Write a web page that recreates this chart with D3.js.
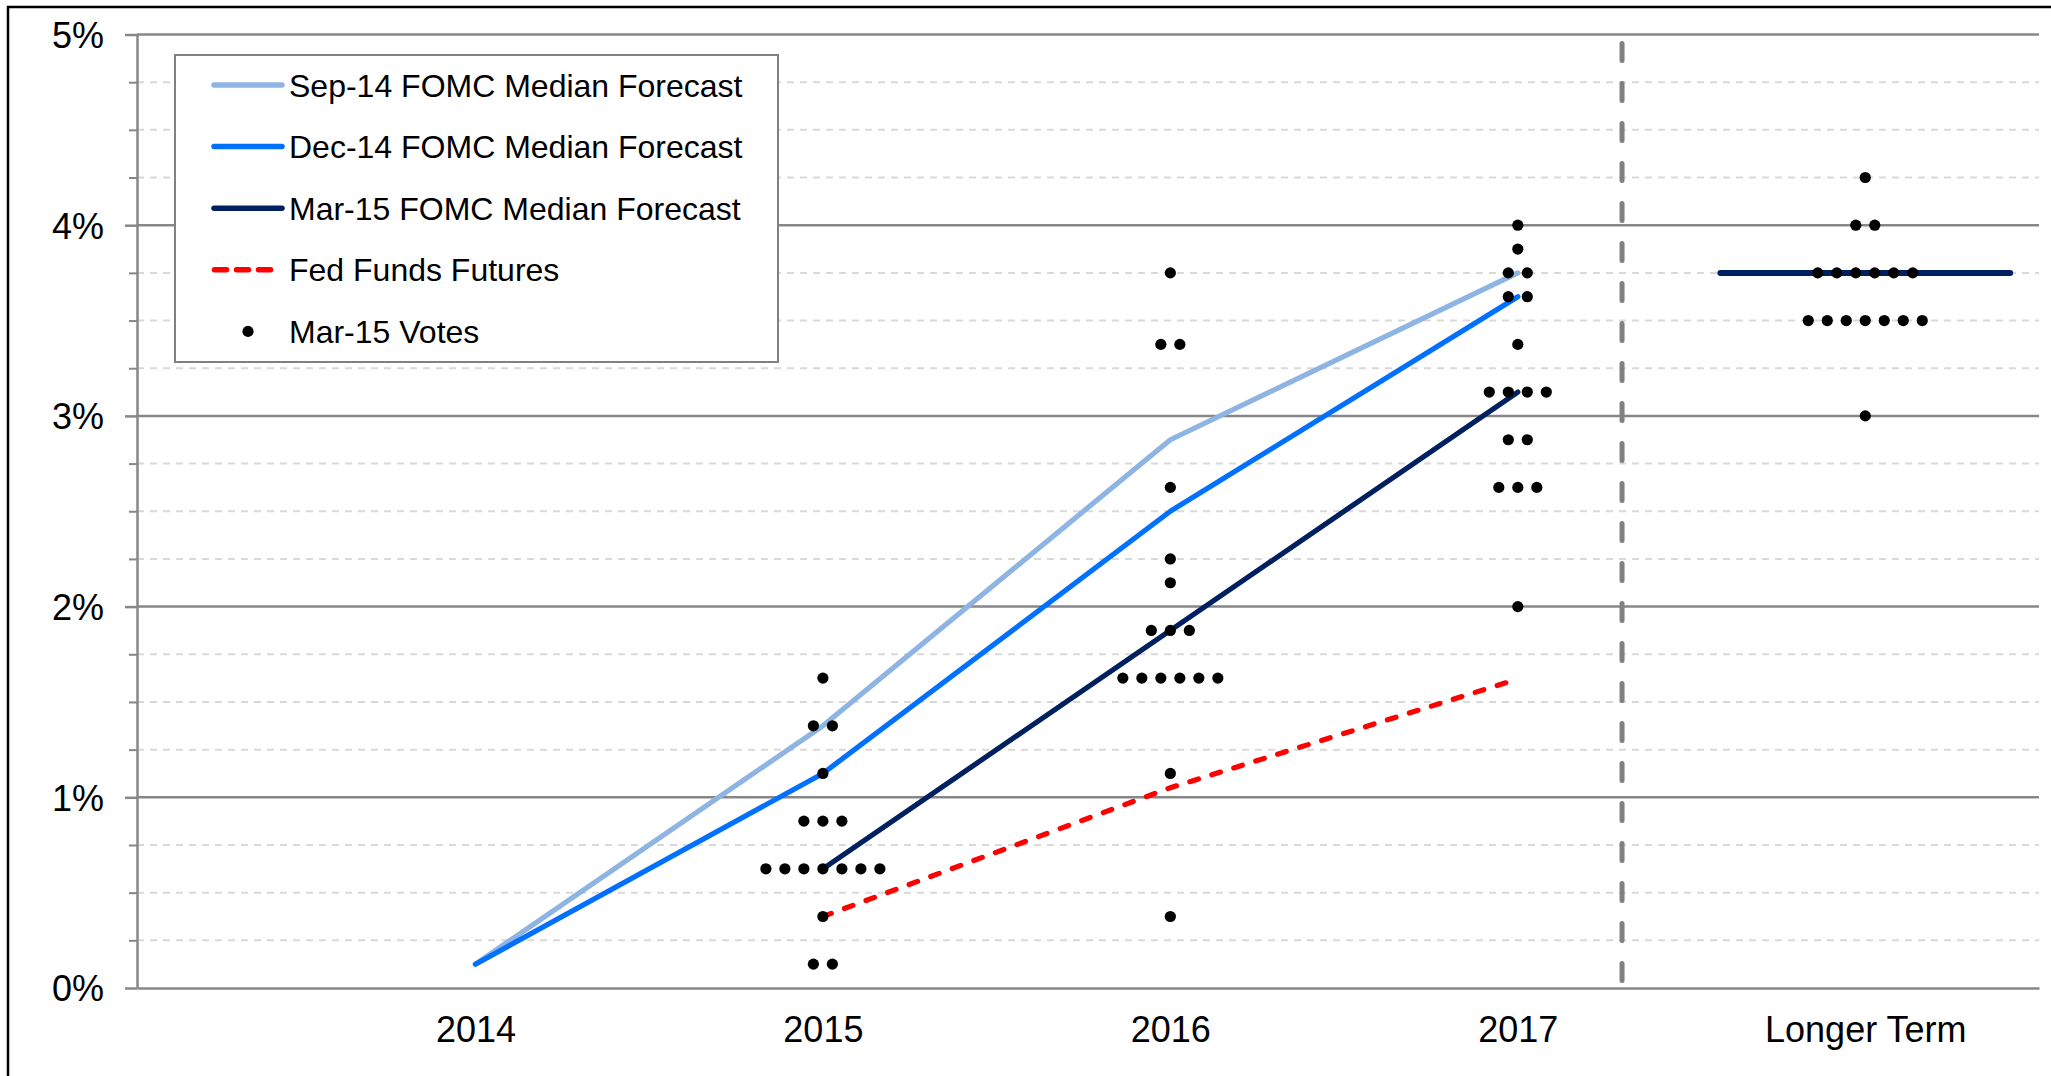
<!DOCTYPE html>
<html>
<head>
<meta charset="utf-8">
<script src="https://cdn.jsdelivr.net/npm/d3@7/dist/d3.min.js"></script>
<style>
  html, body { margin: 0; padding: 0; background: #fff; }
  svg { display: block; font-family: "Liberation Sans", Arial, sans-serif; }
</style>
</head>
<body>
<svg id="chart" width="2051" height="1076"></svg>
<script>
// ---------------- DATA ----------------
const categories = ["2014", "2015", "2016", "2017", "Longer Term"];
const categoryX = [1, 2, 3, 4, 5];

const sep14Median = [0.125, 1.375, 2.875, 3.75];          // 2014..2017
const dec14Median = [0.125, 1.125, 2.5, 3.625];           // 2014..2017
const mar15Median = [null, 0.625, 1.875, 3.125];          // 2014..2017
const mar15LongerTermMedian = 3.75;
const longerTermSpan = [4.583, 5.417];
const fedFundsFutures = [null, 0.375, 1.05, 1.62];        // 2014..2017

const votes2015 = [1.625, 1.375, 1.375, 1.125, 0.875, 0.875, 0.875,
  0.625, 0.625, 0.625, 0.625, 0.625, 0.625, 0.625, 0.375, 0.125, 0.125];
const votes2016 = [3.75, 3.375, 3.375, 2.625, 2.25, 2.125, 1.875, 1.875, 1.875,
  1.625, 1.625, 1.625, 1.625, 1.625, 1.625, 1.125, 0.375];
const votes2017 = [4.0, 3.875, 3.75, 3.75, 3.625, 3.625, 3.375, 3.125, 3.125,
  3.125, 3.125, 2.875, 2.875, 2.625, 2.625, 2.625, 2.0];
const votesLongerTerm = [4.25, 4.0, 4.0, 3.75, 3.75, 3.75, 3.75, 3.75, 3.75,
  3.5, 3.5, 3.5, 3.5, 3.5, 3.5, 3.5, 3.0];

const yMajorTicks = [0, 1, 2, 3, 4, 5];
const yTickLabels = ["0%", "1%", "2%", "3%", "4%", "5%"];
const separatorX = 4.3;

const legendLabels = ["Sep-14 FOMC Median Forecast", "Dec-14 FOMC Median Forecast",
  "Mar-15 FOMC Median Forecast", "Fed Funds Futures", "Mar-15 Votes"];

// ---------------- STYLE ----------------
const C = {
  sep: "#8DB4E2", dec: "#0070FF", mar: "#002060", fut: "#FF0000",
  grid: "#878787", minor: "#D9D9D9", dot: "#000000"
};

const svg = d3.select("#chart");
const plotLeft = 137, plotRight = 2039, plotTop = 34.5, plotBottom = 988;

const x = d3.scaleLinear().domain([0.026, 5.5]).range([plotLeft, plotRight]);
const y = d3.scaleLinear().domain([0, 5]).range([plotBottom, plotTop]);

// outer frame
svg.append("rect").attr("x", 8).attr("y", 7).attr("width", 2200).attr("height", 1200)
  .attr("fill", "none").attr("stroke", "#000").attr("stroke-width", 2.5);

// minor gridlines
const minorTicks = d3.range(0, 5.001, 0.25).filter(v => Math.abs(v - Math.round(v)) > 1e-6);
svg.append("g").selectAll("line").data(minorTicks).join("line")
  .attr("x1", plotLeft).attr("x2", plotRight)
  .attr("y1", d => y(d)).attr("y2", d => y(d))
  .attr("stroke", C.minor).attr("stroke-width", 2).attr("stroke-dasharray", "7,6");

// major gridlines
svg.append("g").selectAll("line").data(yMajorTicks.filter(d => d > 0)).join("line")
  .attr("x1", plotLeft).attr("x2", plotRight)
  .attr("y1", d => y(d)).attr("y2", d => y(d))
  .attr("stroke", C.grid).attr("stroke-width", 2.5);

// y axis minor ticks
const yMinorAxis = d3.axisLeft(y).tickValues(minorTicks).tickSize(8).tickFormat("").tickSizeOuter(0);
const gMinor = svg.append("g").attr("transform", `translate(${plotLeft},0)`).call(yMinorAxis);
gMinor.select(".domain").remove();
gMinor.selectAll("line").attr("stroke", C.grid).attr("stroke-width", 2);

// y axis major
const yAxis = d3.axisLeft(y).tickValues(yMajorTicks)
  .tickFormat((d, i) => yTickLabels[i]).tickSize(12).tickPadding(21).tickSizeOuter(0);
const gy = svg.append("g").attr("transform", `translate(${plotLeft},0)`).call(yAxis);
gy.select(".domain").attr("stroke", C.grid).attr("stroke-width", 2.5);
gy.selectAll("line").attr("stroke", C.grid).attr("stroke-width", 2.5);
gy.selectAll("text").attr("font-size", 36).attr("fill", "#000")
  .attr("dy", "0.36em").attr("font-family", "Liberation Sans, Arial, sans-serif");

// x axis
const xAxis = d3.axisBottom(x).tickValues(categoryX)
  .tickFormat((d, i) => categories[i]).tickSize(0).tickPadding(28).tickSizeOuter(0);
const gx = svg.append("g").attr("transform", `translate(0,${plotBottom})`).call(xAxis);
gx.select(".domain").attr("stroke", C.grid).attr("stroke-width", 2.5);
gx.selectAll("text").attr("font-size", 36).attr("fill", "#000")
  .attr("font-family", "Liberation Sans, Arial, sans-serif");

// vertical separator
svg.append("line")
  .attr("x1", x(separatorX)).attr("x2", x(separatorX))
  .attr("y1", y(5) + 9).attr("y2", plotBottom)
  .attr("stroke", "#808080").attr("stroke-width", 5)
  .attr("stroke-linecap", "round").attr("stroke-dasharray", "17,23");

// lines
function series(vals) {
  return vals.map((v, i) => ({ x: categoryX[i], v })).filter(d => d.v !== null);
}
const lineGen = d3.line().x(d => x(d.x)).y(d => y(d.v));

const lineSpecs = [
  { data: series(sep14Median), color: C.sep, dash: null },
  { data: series(dec14Median), color: C.dec, dash: null },
  { data: series(mar15Median), color: C.mar, dash: null },
  { data: longerTermSpan.map(s => ({ x: s, v: mar15LongerTermMedian })), color: C.mar, dash: null, w: 6 },
  { data: series(fedFundsFutures), color: C.fut, dash: "9,14" }
];
lineSpecs.forEach(s => {
  svg.append("path").datum(s.data).attr("d", lineGen)
    .attr("fill", "none").attr("stroke", s.color).attr("stroke-width", s.w || 5.2)
    .attr("stroke-linecap", "round").attr("stroke-linejoin", "round")
    .attr("stroke-dasharray", s.dash);
});

// dots
const voteCols = [[2, votes2015], [3, votes2016], [4, votes2017], [5, votesLongerTerm]];
const dotSpacing = 19;
const dots = [];
voteCols.forEach(([cx, vals]) => {
  const groups = d3.groups(vals, v => v);
  groups.forEach(([v, arr]) => {
    const n = arr.length;
    arr.forEach((_, i) => dots.push({ cx, v, off: (i - (n - 1) / 2) * dotSpacing }));
  });
});
svg.append("g").selectAll("circle").data(dots).join("circle")
  .attr("cx", d => x(d.cx) + d.off).attr("cy", d => y(d.v)).attr("r", 5.6)
  .attr("fill", C.dot);

// legend
const lg = svg.append("g");
lg.append("rect").attr("x", 175).attr("y", 55).attr("width", 603).attr("height", 307)
  .attr("fill", "#fff").attr("stroke", "#808080").attr("stroke-width", 2);
const legendRowY = d3.range(5).map(i => 85 + i * 61.6);
const legendStyles = [
  { type: "line", color: C.sep }, { type: "line", color: C.dec },
  { type: "line", color: C.mar }, { type: "dash", color: C.fut }, { type: "dot", color: C.dot }
];
legendStyles.forEach((s, i) => {
  const ly = legendRowY[i];
  if (s.type === "line") {
    lg.append("line").attr("x1", 214).attr("x2", 282).attr("y1", ly).attr("y2", ly)
      .attr("stroke", s.color).attr("stroke-width", 5.5).attr("stroke-linecap", "round");
  } else if (s.type === "dash") {
    lg.append("line").attr("x1", 214.5).attr("x2", 271).attr("y1", ly).attr("y2", ly)
      .attr("stroke", s.color).attr("stroke-width", 5.5).attr("stroke-linecap", "round")
      .attr("stroke-dasharray", "12,10");
  } else {
    lg.append("circle").attr("cx", 248).attr("cy", ly).attr("r", 5.6).attr("fill", s.color);
  }
  lg.append("text").attr("x", 289).attr("y", ly).attr("dy", "0.36em")
    .attr("font-size", 32).attr("fill", "#000").text(legendLabels[i]);
});
</script>
</body>
</html>
